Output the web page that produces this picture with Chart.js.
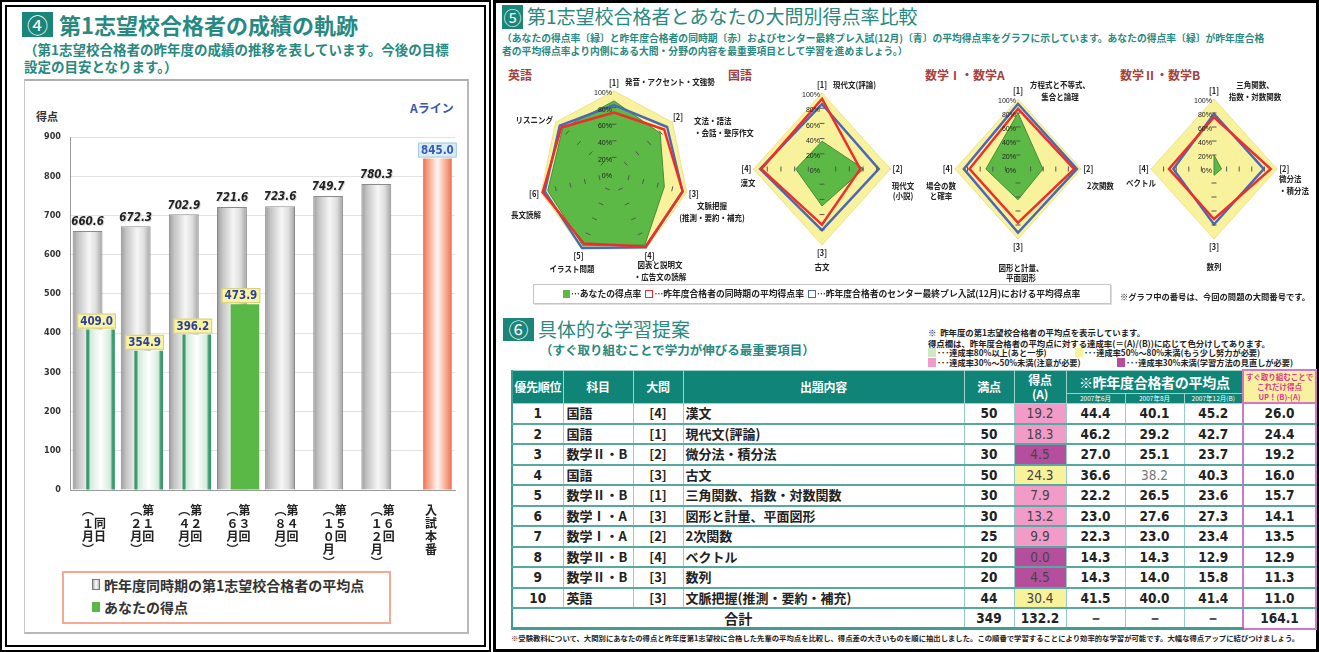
<!DOCTYPE html>
<html lang="ja">
<head>
<meta charset="utf-8">
<script src="https://cdn.jsdelivr.net/npm/chart.js@4.4.1/dist/chart.umd.min.js"></script>
<style>
* { box-sizing: border-box; margin: 0; padding: 0; }
html, body { width: 1319px; height: 652px; overflow: hidden; background: #fff; }
body { position: relative; font-family: "Noto Sans CJK JP", "Noto Sans", sans-serif; color: #222; }
.a { position: absolute; white-space: nowrap; }
.teal { color: #27897f; }
.numbox { background: #1a8579; color: #fff; text-align: center; }
.sub { color: #a2413b; font-size: 12px; font-weight: 700; }
#tbl { position: absolute; left: 511px; top: 369px; width: 804px; border-collapse: collapse; table-layout: fixed; }
#tbl th { background: #0f8477; color: #fff; font-weight: 700; border: 1px solid #9fd2cb; font-size: 12px; line-height: 14px; padding: 0; white-space: nowrap; letter-spacing: -0.3px; }
#tbl th.yr { font-size: 6.5px; line-height: 9px; height: 10px; font-weight: 400; letter-spacing: 0; }
#tbl th.up { background: #f8f29e; color: #e0378f; font-size: 7.5px; line-height: 10px; border: 2px solid #d276c6; letter-spacing: 0; }
#tbl td { height: 20.5px; border-left: 1px solid #98cdc6; border-right: 1px solid #98cdc6; border-bottom: 2px solid #55a9a0; font-size: 13px; font-weight: 700; padding: 0; text-align: center; line-height: 18px; white-space: nowrap; }
#tbl td.l { text-align: left; padding-left: 3px; }
#tbl td.n { font-family: "Liberation Sans Narrow", "DejaVu Sans Condensed", "Liberation Sans", sans-serif; font-size: 13.5px; }
#tbl td.g { border-left: 2px solid #d276c6; border-right: 2px solid #d276c6; }
#tbl tr.tot td { border-bottom: 3px solid #3f9d94; }
#tbl tr.tot td.g { border-bottom: 2px solid #d276c6; }
.sw { display: inline-block; width: 8px; height: 9px; vertical-align: -1px; margin-right: 1px; }
</style>
</head>
<body>
<!-- ===== left panel ===== -->
<div class="a" style="left:0;top:0;width:491px;height:652px;border:7px double #000;"></div>
<div class="a numbox" style="left:22px;top:12px;width:31px;height:25px;font-size:21px;line-height:25px;">④</div>
<div class="a teal" style="left:59px;top:9px;font-size:22px;font-weight:700;line-height:30px;">第1志望校合格者の成績の軌跡</div>
<div class="a teal" style="left:24px;top:41px;font-size:13.5px;font-weight:700;line-height:17px;">（第1志望校合格者の昨年度の成績の推移を表しています。今後の目標<br>設定の目安となります。）</div>
<div class="a" style="left:24px;top:79px;width:445px;height:555px;border:1px solid #c6c6c6;border-top:2px solid #b0b0b0;border-right:2px solid #b8b8b8;border-bottom:2px solid #b8b8b8;"></div>
<div class="a" style="left:36px;top:108px;font-size:11px;font-weight:700;color:#333;">得点</div>
<div class="a" style="left:410px;top:99px;font-size:12px;font-weight:700;color:#3a58b2;">Aライン</div>
<canvas id="bar" class="a" style="left:24px;top:120px;" width="444" height="445"></canvas>
<div class="a" style="left:62px;top:571px;width:329px;height:53px;border:2px solid #f4a995;"></div>
<div class="a" style="left:92px;top:579px;width:8px;height:11px;border:1px solid #777;background:linear-gradient(90deg,#aaa,#fff,#bbb);"></div>
<div class="a" style="left:104px;top:575px;font-size:14px;font-weight:700;color:#333;line-height:20px;">昨年度同時期の第1志望校合格者の平均点</div>
<div class="a" style="left:92px;top:602px;width:8px;height:10px;background:#5ab946;"></div>
<div class="a" style="left:104px;top:597px;font-size:14px;font-weight:700;color:#333;line-height:20px;">あなたの得点</div>

<!-- ===== right panel ===== -->
<div class="a" style="left:493px;top:0;width:826px;height:652px;border:3px solid #000;"></div>
<div class="a numbox" style="left:502px;top:5px;width:21px;height:24px;font-size:18px;line-height:24px;">⑤</div>
<div class="a teal" style="left:527px;top:2px;font-size:19px;line-height:28px;">第1志望校合格者とあなたの大問別得点率比較</div>
<div class="a teal" style="left:502px;top:32px;font-size:9.8px;font-weight:700;line-height:13px;">（あなたの得点率〔緑〕と昨年度合格者の同時期〔赤〕およびセンター最終プレ入試(12月)〔青〕の平均得点率をグラフに示しています。あなたの得点率〔緑〕が昨年度合格<br>者の平均得点率より内側にある大問・分野の内容を最重要項目として学習を進めましょう。）</div>
<div class="a sub" style="left:508px;top:66px;">英語</div>
<div class="a sub" style="left:728px;top:66px;">国語</div>
<div class="a sub" style="left:925px;top:66px;">数学Ⅰ・数学A</div>
<div class="a sub" style="left:1120px;top:66px;">数学Ⅱ・数学B</div>
<canvas id="rEng" class="a"></canvas>
<canvas id="rJpn" class="a"></canvas>
<canvas id="rMa" class="a"></canvas>
<canvas id="rMb" class="a"></canvas>

<div class="a" style="left:533px;top:284px;width:578px;height:20px;border:1px solid #c4c4c4;box-shadow:1px 1px 0 #ddd;"></div>
<div class="a" style="left:563px;top:287px;font-size:8.8px;font-weight:700;line-height:14px;">
<span class="sw" style="background:#5cb946;width:7px;height:8px;"></span>…あなたの得点率&nbsp;&nbsp;<span class="sw" style="border:1.5px solid #ee2d2d;width:8px;height:8px;"></span>…昨年度合格者の同時期の平均得点率&nbsp;&nbsp;<span class="sw" style="border:1.5px solid #4a68b8;width:8px;height:8px;"></span>…昨年度合格者のセンター最終プレ入試(12月)における平均得点率</div>
<div class="a" style="left:1120px;top:289px;font-size:8.3px;font-weight:700;line-height:14px;">※グラフ中の番号は、今回の問題の大問番号です。</div>

<div class="a numbox" style="left:503px;top:318px;width:31px;height:23px;font-size:20px;line-height:23px;">⑥</div>
<div class="a teal" style="left:538px;top:314px;font-size:19px;line-height:30px;">具体的な学習提案</div>
<div class="a teal" style="left:540px;top:342px;font-size:12.5px;font-weight:700;line-height:16px;">（すぐ取り組むことで学力が伸びる最重要項目）</div>

<div class="a" style="left:928px;top:327px;font-size:8.4px;font-weight:700;line-height:10px;">※&nbsp;&nbsp;昨年度の第1志望校合格者の平均点を表示しています。</div>
<div class="a" style="left:928px;top:338px;font-size:8.4px;font-weight:700;line-height:10px;">得点欄は、昨年度合格者の平均点に対する達成率(＝(A)/(B))に応じて色分けしてあります。</div>
<div class="a" style="left:928px;top:347px;font-size:8.2px;font-weight:700;line-height:10px;"><span class="sw" style="background:#cfe8c6;"></span>･･･達成率80%以上(あと一歩)</div>
<div class="a" style="left:1075px;top:347px;font-size:8.2px;font-weight:700;line-height:10px;"><span class="sw" style="background:#f8f29a;"></span>･･･達成率50%～80%未満(もう少し努力が必要)</div>
<div class="a" style="left:928px;top:357px;font-size:8.2px;font-weight:700;line-height:10px;"><span class="sw" style="background:#f39bc8;"></span>･･･達成率30%～50%未満(注意が必要)</div>
<div class="a" style="left:1117px;top:357px;font-size:8.2px;font-weight:700;line-height:10px;"><span class="sw" style="background:#b54f9d;"></span>･･･達成率30%未満(学習方法の見直しが必要)</div>

<table id="tbl"></table>
<div class="a" style="left:511px;top:633px;font-size:7.35px;font-weight:700;line-height:10px;">※受験教科について、大問別にあなたの得点と昨年度第1志望校に合格した先輩の平均点を比較し、得点差の大きいものを順に抽出しました。この順番で学習することにより効率的な学習が可能です。大幅な得点アップに結びつけましょう。</div>

<script>
// ================= DATA =================
// ④ bar chart
const examLabels = [
  ['︵　', '１同', '月日', '︶　'],
  ['︵第', '２１', '月回', '︶　'],
  ['︵第', '４２', '月回', '︶　'],
  ['︵第', '６３', '月回', '︶　'],
  ['︵第', '８４', '月回', '︶　'],
  ['︵第', '１５', '０回', '月　', '︶　'],
  ['︵第', '１６', '２回', '月　', '︶　'],
  ['入', '試', '本', '番']
];
const passerAverage = [660.6, 672.3, 702.9, 721.6, 723.6, 749.7, 780.3, null];
const yourScore     = [409.0, 354.9, 396.2, 473.9, null, null, null, null];
const aLine         = [null, null, null, null, null, null, null, 845.0];
const scoreAxisMax = 900;
const scoreAxisStep = 100;

// ⑤ radar charts (percent)
const radarTickValues = [0, 20, 40, 60, 80, 100];
const engAxisNums  = ['[1]', '[2]', '[3]', '[4]', '[5]', '[6]', ''];
const engAxisNames = [['発音・アクセント・文強勢'], ['文法・語法', '・会話・整序作文'], ['文脈把握', '(推測・要約・補充)'], ['図表と説明文', '・広告文の読解'], ['イラスト問題'], ['長文読解'], ['リスニング']];
const engFull = [100, 100, 100, 100, 100, 100, 100];
const engYou  = [88, 79, 69.1, 95, 96, 91, 88];
const engSame = [74, 86, 94.3, 97, 93, 98, 90];
const engPre  = [83, 91, 94.1, 98, 99, 95, 93];

const jpnAxisNums  = ['[1]', '[2]', '[3]', '[4]'];
const jpnAxisNames = [['現代文(評論)'], ['現代文', '(小説)'], ['古文'], ['漢文']];
const jpnFull = [100, 100, 100, 100];
const jpnYou  = [36.6, 61, 48.6, 38.4];
const jpnSame = [92.4, 56, 73.2, 88.8];
const jpnPre  = [85.4, 83, 80.6, 90.4];

const maAxisNums  = ['[1]', '[2]', '[3]', '[4]'];
const maAxisNames = [['方程式と不等式、', '集合と論理'], ['2次関数'], ['図形と計量、', '平面図形'], ['場合の数', 'と確率']];
const maFull = [100, 100, 100, 100];
const maYou  = [80, 39.6, 44, 51];
const maSame = [86, 89.2, 76.7, 77];
const maPre  = [93, 93.6, 91, 86];

const mbAxisNums  = ['[1]', '[2]', '[3]', '[4]'];
const mbAxisNames = [['三角関数、', '指数・対数関数'], ['微分法', '・積分法'], ['数列'], ['ベクトル']];
const mbFull = [100, 100, 100, 100];
const mbYou  = [20, 12, 9, 0];
const mbSame = [74, 90, 71.5, 71.5];
const mbPre  = [78.7, 79, 79, 64.5];

// ⑥ table
const tblRank     = [1, 2, 3, 4, 5, 6, 7, 8, 9, 10];
const tblSubject  = ['国語', '国語', '数学Ⅱ・B', '国語', '数学Ⅱ・B', '数学Ⅰ・A', '数学Ⅰ・A', '数学Ⅱ・B', '数学Ⅱ・B', '英語'];
const tblQuestion = ['[4]', '[1]', '[2]', '[3]', '[1]', '[3]', '[2]', '[4]', '[3]', '[3]'];
const tblContent  = ['漢文', '現代文(評論)', '微分法・積分法', '古文', '三角関数、指数・対数関数', '図形と計量、平面図形', '2次関数', 'ベクトル', '数列', '文脈把握(推測・要約・補充)'];
const tblFull     = [50, 50, 30, 50, 30, 30, 25, 20, 20, 44];
const tblScore    = [19.2, 18.3, 4.5, 24.3, 7.9, 13.2, 9.9, 0.0, 4.5, 30.4];
const tblAvgJun   = [44.4, 46.2, 27.0, 36.6, 22.2, 23.0, 22.3, 14.3, 14.3, 41.5];
const tblAvgAug   = [40.1, 29.2, 25.1, 38.2, 26.5, 27.6, 23.0, 14.3, 14.0, 40.0];
const tblAvgDec   = [45.2, 42.7, 23.7, 40.3, 23.6, 27.3, 23.4, 12.9, 15.8, 41.4];
const tblGain     = [26.0, 24.4, 19.2, 16.0, 15.7, 14.1, 13.5, 12.9, 11.3, 11.0];
const tblTotalFull = 349, tblTotalScore = 132.2, tblTotalGain = 164.1;
const tblHeaders  = ['優先順位', '科目', '大問', '出題内容', '満点', '得点<br>(A)', '※昨年度合格者の平均点', 'すぐ取り組むことで<br>これだけ得点<br>UP！(B)-(A)'];
const tblYearHeaders = ['2007年6月', '2007年8月', '2007年12月(B)'];

// ================= BAR CHART =================
const CAT_PCT = 0.54, GRAY_PCT = 2.3, YOU_PCT = 2.2;
const NUM_FONT = '"Liberation Sans Narrow", "DejaVu Sans Condensed", "Liberation Sans", sans-serif';
const lastYourIndex = yourScore.reduce((m, v, i) => (v !== null ? i : m), -1);

function barSpan(chart, index, slot, pct) {
  const xs = chart.scales.x;
  if (!xs || !chart.chartArea || !isFinite(xs.width) || xs.width <= 0) return null;
  const catW = xs.width / examLabels.length;
  const size = catW * CAT_PCT, chunk = size / 2;
  const center = xs.getPixelForValue(index) - size / 2 + chunk * slot + chunk / 2;
  const w = chunk * pct;
  return [center - w / 2, center + w / 2];
}
function hGrad(chart, span, stops, fallback) {
  if (!span) return fallback;
  const g = chart.ctx.createLinearGradient(span[0], 0, span[1], 0);
  stops.forEach(s => g.addColorStop(s[0], s[1]));
  return g;
}
const grayStops = [[0, '#9c9c9c'], [0.18, '#c4c4c4'], [0.55, '#f6f6f6'], [0.78, '#dedede'], [1, '#a2a2a2']];
const greenStops = [[0, '#2f9468'], [0.08, '#3f9e74'], [0.14, '#d3ebdc'], [0.5, '#ffffff'], [0.84, '#d3ebdc'], [0.92, '#3f9e74'], [1, '#2f9468']];
const aStops = [[0, '#ef6f4f'], [0.15, '#f59c80'], [0.5, '#fff5f1'], [0.85, '#f59c80'], [1, '#ef6f4f']];

// draws "your score" bars over the passer-average bars (library draws index 0 last otherwise)
const drawOrderPlugin = {
  id: 'drawOrder',
  beforeDatasetDraw(chart, args) {
    if (args.index !== 0 && !chart.$lateDraw) return false;
  },
  afterDatasetsDraw(chart) {
    chart.$lateDraw = true;
    for (let i = 1; i < chart.data.datasets.length; i++) {
      const meta = chart.getDatasetMeta(i);
      if (meta.visible !== false) meta.controller.draw();
    }
    chart.$lateDraw = false;
  }
};

const barLabelPlugin = {
  id: 'barLabels',
  afterDatasetsDraw(chart) {
    const ctx = chart.ctx;
    ctx.save();
    chart.data.datasets.forEach((ds, di) => {
      const meta = chart.getDatasetMeta(di);
      meta.data.forEach((el, i) => {
        const v = ds.data[i];
        if (v === null || v === undefined) return;
        const txt = v.toFixed(1);
        if (di === 0) {
          ctx.font = 'italic bold 11.5px ' + NUM_FONT;
          ctx.textAlign = 'center'; ctx.textBaseline = 'bottom';
          ctx.fillStyle = '#d8d8d8';
          ctx.fillText(txt, el.x + 1, el.y - 2);
          ctx.fillStyle = '#222';
          ctx.fillText(txt, el.x, el.y - 3);
        } else {
          ctx.font = 'bold 11.5px ' + NUM_FONT;
          const tw = ctx.measureText(txt).width;
          const bw = tw + 6, bh = 15;
          const bx = el.x - (di === 1 ? 4 : 0) - bw / 2, by = el.y - 1 - bh;
          ctx.fillStyle = di === 1 ? '#f8f4a2' : '#d8eef6';
          ctx.strokeStyle = di === 1 ? '#d6cd7c' : '#a6cad8';
          ctx.lineWidth = 1;
          ctx.fillRect(bx, by, bw, bh);
          ctx.strokeRect(bx + 0.5, by + 0.5, bw - 1, bh - 1);
          ctx.fillStyle = di === 1 ? '#2d3e9e' : '#3a5bb5';
          ctx.textAlign = 'center'; ctx.textBaseline = 'middle';
          ctx.fillText(txt, bx + bw / 2, by + bh / 2 + 0.5);
        }
      });
    });
    ctx.restore();
  }
};

new Chart(document.getElementById('bar'), {
  type: 'bar',
  data: {
    labels: examLabels,
    datasets: [
      { label: '昨年度同時期の第1志望校合格者の平均点', data: passerAverage, stack: 'avg',
        backgroundColor: c => c.type === 'data' ? hGrad(c.chart, barSpan(c.chart, c.dataIndex, 0, GRAY_PCT), grayStops, '#cccccc') : '#cccccc',
        borderColor: '#8a8a8a', borderWidth: 1, categoryPercentage: CAT_PCT, barPercentage: GRAY_PCT },
      { label: 'あなたの得点', data: yourScore, stack: 'you',
        backgroundColor: c => {
          if (c.type !== 'data') return '#5ab946';
          if (c.dataIndex === lastYourIndex) return '#5ab946';
          return hGrad(c.chart, barSpan(c.chart, c.dataIndex, 1, YOU_PCT), greenStops, '#bfe3c8');
        },
        borderWidth: 0, categoryPercentage: CAT_PCT, barPercentage: YOU_PCT },
      { label: 'Aライン', data: aLine, stack: 'you',
        backgroundColor: c => c.type === 'data' ? hGrad(c.chart, barSpan(c.chart, c.dataIndex, 1, YOU_PCT), aStops, '#f4a080') : '#f4a080',
        borderWidth: 0, categoryPercentage: CAT_PCT, barPercentage: YOU_PCT }
    ]
  },
  options: {
    responsive: false, animation: false, events: [],
    layout: { padding: { top: 17, right: 13, left: 0, bottom: 0 } },
    plugins: { legend: { display: false }, tooltip: { enabled: false } },
    scales: {
      x: {
        stacked: true, offset: true,
        grid: { display: false, drawTicks: false },
        border: { color: '#9a9a9a' },
        ticks: { autoSkip: false, maxRotation: 0, minRotation: 0, padding: 14, color: '#222',
                 font: { family: '"Noto Sans CJK JP"', size: 12, weight: 'bold', lineHeight: 1.08 } },
        afterFit: s => { s.height = 75; }
      },
      y: {
        stacked: false, min: 0, max: scoreAxisMax,
        ticks: { stepSize: scoreAxisStep, padding: 9, color: '#333', font: { family: NUM_FONT, size: 9, weight: 'bold' } },
        grid: { color: '#e3e3e3', drawTicks: false },
        border: { color: '#9a9a9a' },
        afterFit: s => { s.width = 46; }
      }
    }
  },
  plugins: [drawOrderPlugin, barLabelPlugin]
});

// ================= RADAR CHARTS =================
const H_SQUEEZE = 0.9;
const TEXT_SQUEEZE = 0.88;
const YELLOW = '#f9f29c', GREEN = '#5cb946', RED = '#ee2d2d', BLUE = '#4a68b8';
const LABEL_FONT = '"Noto Sans CJK JP", sans-serif';

function squeezedText(ctx, txt, x, y) {
  ctx.save();
  ctx.translate(x, y);
  ctx.scale(TEXT_SQUEEZE, 1);
  ctx.fillText(txt, 0, 0);
  ctx.restore();
}

const radarDecor = {
  id: 'radarDecor',
  beforeDraw(chart) {
    const s = chart.scales.r, ctx = chart.ctx;
    ctx.save();
    ctx.translate(s.xCenter, 0);
    ctx.scale(H_SQUEEZE, 1);
    ctx.translate(-s.xCenter, 0);
  },
  afterDatasetsDraw(chart) {
    chart.ctx.restore();
  },
  afterDraw(chart, args, opts) {
    const s = chart.scales.r, ctx = chart.ctx;
    const sx = x => s.xCenter + (x - s.xCenter) * H_SQUEEZE;
    const n = chart.data.labels.length;
    ctx.save();
    ctx.strokeStyle = '#555'; ctx.lineWidth = 1;
    for (let i = 0; i < n; i++) {
      const tip = s.getPointPosition(i, s.drawingArea);
      let ux = (tip.x - s.xCenter) * H_SQUEEZE, uy = tip.y - s.yCenter;
      const len = Math.hypot(ux, uy); ux /= len; uy /= len;
      radarTickValues.forEach(v => {
        if (v === 0 || v === 100) return;
        const p = s.getPointPosition(i, s.getDistanceFromCenterForValue(v));
        const x = sx(p.x), y = p.y;
        ctx.beginPath();
        ctx.moveTo(x - uy * 2.5, y + ux * 2.5);
        ctx.lineTo(x + uy * 2.5, y - ux * 2.5);
        ctx.stroke();
      });
    }
    ctx.fillStyle = '#222';
    ctx.font = '8px "Liberation Sans", sans-serif';
    ctx.textAlign = 'right'; ctx.textBaseline = 'middle';
    radarTickValues.forEach(v => {
      const d = s.getDistanceFromCenterForValue(v);
      squeezedText(ctx, v + '%', s.xCenter - 2, s.yCenter - d + 2);
    });
    ctx.font = 'bold 8.5px ' + LABEL_FONT;
    ctx.textAlign = 'center'; ctx.textBaseline = 'middle';
    opts.nums.forEach((t, i) => {
      if (!t) return;
      const p = s.getPointPosition(i, s.drawingArea + 8);
      squeezedText(ctx, t, sx(p.x), p.y);
    });
    ctx.font = 'bold 8.5px ' + LABEL_FONT;
    opts.names.forEach((lines, i) => {
      const L = opts.place[i];
      ctx.textAlign = L.a;
      lines.forEach((ln, k) => squeezedText(ctx, ln, s.xCenter + L.x, s.yCenter + L.y + k * (L.lh || 11.5)));
    });
    ctx.restore();
  }
};

function makeRadar(id, nums, names, full, you, same, pre, lay) {
  const padX = 72, padT = 34, padB = 44;
  const cv = document.getElementById(id);
  cv.width = 2 * lay.R + 2 * padX;
  cv.height = 2 * lay.R + padT + padB;
  cv.style.left = (lay.cx - lay.R - padX) + 'px';
  cv.style.top = (lay.cy - lay.R - padT) + 'px';
  const line = { pointRadius: 0, pointHoverRadius: 0, tension: 0 };
  new Chart(cv, {
    type: 'radar',
    data: {
      labels: names.map(n => n.join('')),
      datasets: [
        Object.assign({ label: '100%', data: full, backgroundColor: YELLOW, borderColor: '#eee08a', borderWidth: 1, fill: 'origin', order: 4 }, line),
        Object.assign({ label: 'あなたの得点率', data: you, backgroundColor: GREEN, borderColor: '#3f8a36', borderWidth: 1, fill: 'origin', order: 3 }, line),
        Object.assign({ label: '昨年度合格者のセンター最終プレ入試(12月)における平均得点率', data: pre, borderColor: BLUE, borderWidth: 2.6, fill: false, order: 2 }, line),
        Object.assign({ label: '昨年度合格者の同時期の平均得点率', data: same, borderColor: RED, borderWidth: 2.6, fill: false, order: 1 }, line)
      ]
    },
    options: {
      responsive: false, animation: false, events: [],
      layout: { padding: { left: padX, right: padX, top: padT, bottom: padB } },
      plugins: { legend: { display: false }, tooltip: { enabled: false },
                 radarDecor: { nums: nums, names: names, place: lay.place } },
      scales: {
        r: {
          min: 0, max: 100,
          ticks: { display: false, stepSize: 20 },
          grid: { display: false },
          angleLines: { display: true, color: '#555', lineWidth: 1 },
          pointLabels: { display: false }
        }
      }
    },
    plugins: [radarDecor]
  });
}

makeRadar('rEng', engAxisNums, engAxisNames, engFull, engYou, engSame, engPre, {
  cx: 614, cy: 174, R: 83,
  place: [ { x: 11, y: -92, a: 'left' }, { x: 80, y: -53, a: 'left' }, { x: 98, y: 32, a: 'center' },
           { x: 46, y: 91, a: 'center' }, { x: -42, y: 95, a: 'center' }, { x: -88, y: 41, a: 'center' },
           { x: -61, y: -54, a: 'right' } ]
});
makeRadar('rJpn', jpnAxisNums, jpnAxisNames, jpnFull, jpnYou, jpnSame, jpnPre, {
  cx: 822, cy: 169, R: 76,
  place: [ { x: 11, y: -84, a: 'left' }, { x: 81, y: 17, a: 'center', lh: 10 }, { x: 0, y: 98, a: 'center' }, { x: -74, y: 14, a: 'center' } ]
});
makeRadar('rMa', maAxisNums, maAxisNames, maFull, maYou, maSame, maPre, {
  cx: 1018, cy: 169, R: 70,
  place: [ { x: 42, y: -84, a: 'center' }, { x: 69, y: 17, a: 'left' }, { x: 3, y: 99, a: 'center', lh: 9.5 }, { x: -77, y: 17, a: 'center', lh: 9.5 } ]
});
makeRadar('rMb', mbAxisNums, mbAxisNames, mbFull, mbYou, mbSame, mbPre, {
  cx: 1214, cy: 169, R: 70,
  place: [ { x: 41, y: -84, a: 'center' }, { x: 65, y: 10, a: 'left' }, { x: 0, y: 98, a: 'center' }, { x: -73, y: 14, a: 'center' } ]
});

// ================= TABLE =================
function rateColor(a, b) {
  const r = a / b;
  if (r >= 0.8) return '#cfe8c6';
  if (r >= 0.5) return '#f8f29a';
  if (r >= 0.3) return '#f39bc8';
  return '#b54f9d';
}
(function buildTable() {
  const colW = [51, 70, 50, 281, 50, 52, 59, 59, 59, 73];
  let h = '<colgroup>' + colW.map(w => '<col style="width:' + w + 'px">').join('') + '</colgroup>';
  h += '<tr style="height:23px">';
  for (let i = 0; i < 6; i++) h += '<th rowspan="2">' + tblHeaders[i] + '</th>';
  h += '<th colspan="3" style="font-size:14px;">' + tblHeaders[6] + '</th>';
  h += '<th rowspan="2" class="up">' + tblHeaders[7] + '</th></tr>';
  h += '<tr>' + tblYearHeaders.map(t => '<th class="yr">' + t + '</th>').join('') + '</tr>';
  for (let i = 0; i < tblRank.length; i++) {
    h += '<tr>';
    h += '<td class="n">' + tblRank[i] + '</td>';
    h += '<td class="l">' + tblSubject[i] + '</td>';
    h += '<td>' + tblQuestion[i] + '</td>';
    h += '<td class="l" style="padding-left:2px">' + tblContent[i] + '</td>';
    h += '<td class="n">' + tblFull[i] + '</td>';
    h += '<td class="n" style="background:' + rateColor(tblScore[i], tblAvgDec[i]) + ';color:#444;font-weight:400">' + tblScore[i].toFixed(1) + '</td>';
    h += '<td class="n">' + tblAvgJun[i].toFixed(1) + '</td>';
    h += '<td class="n"' + (i === 3 ? ' style="color:#777;font-weight:400"' : '') + '>' + tblAvgAug[i].toFixed(1) + '</td>';
    h += '<td class="n">' + tblAvgDec[i].toFixed(1) + '</td>';
    h += '<td class="n g">' + tblGain[i].toFixed(1) + '</td>';
    h += '</tr>';
  }
  h += '<tr class="tot"><td colspan="4" style="font-size:14px">合計</td><td class="n">' + tblTotalFull + '</td><td class="n">' + tblTotalScore.toFixed(1) +
       '</td><td class="n">－</td><td class="n">－</td><td class="n">－</td><td class="n g">' + tblTotalGain.toFixed(1) + '</td></tr>';
  const t = document.getElementById('tbl');
  t.innerHTML = h;
  t.style.borderLeft = '2px solid #3f9d94';
})();
</script>
</body>
</html>
